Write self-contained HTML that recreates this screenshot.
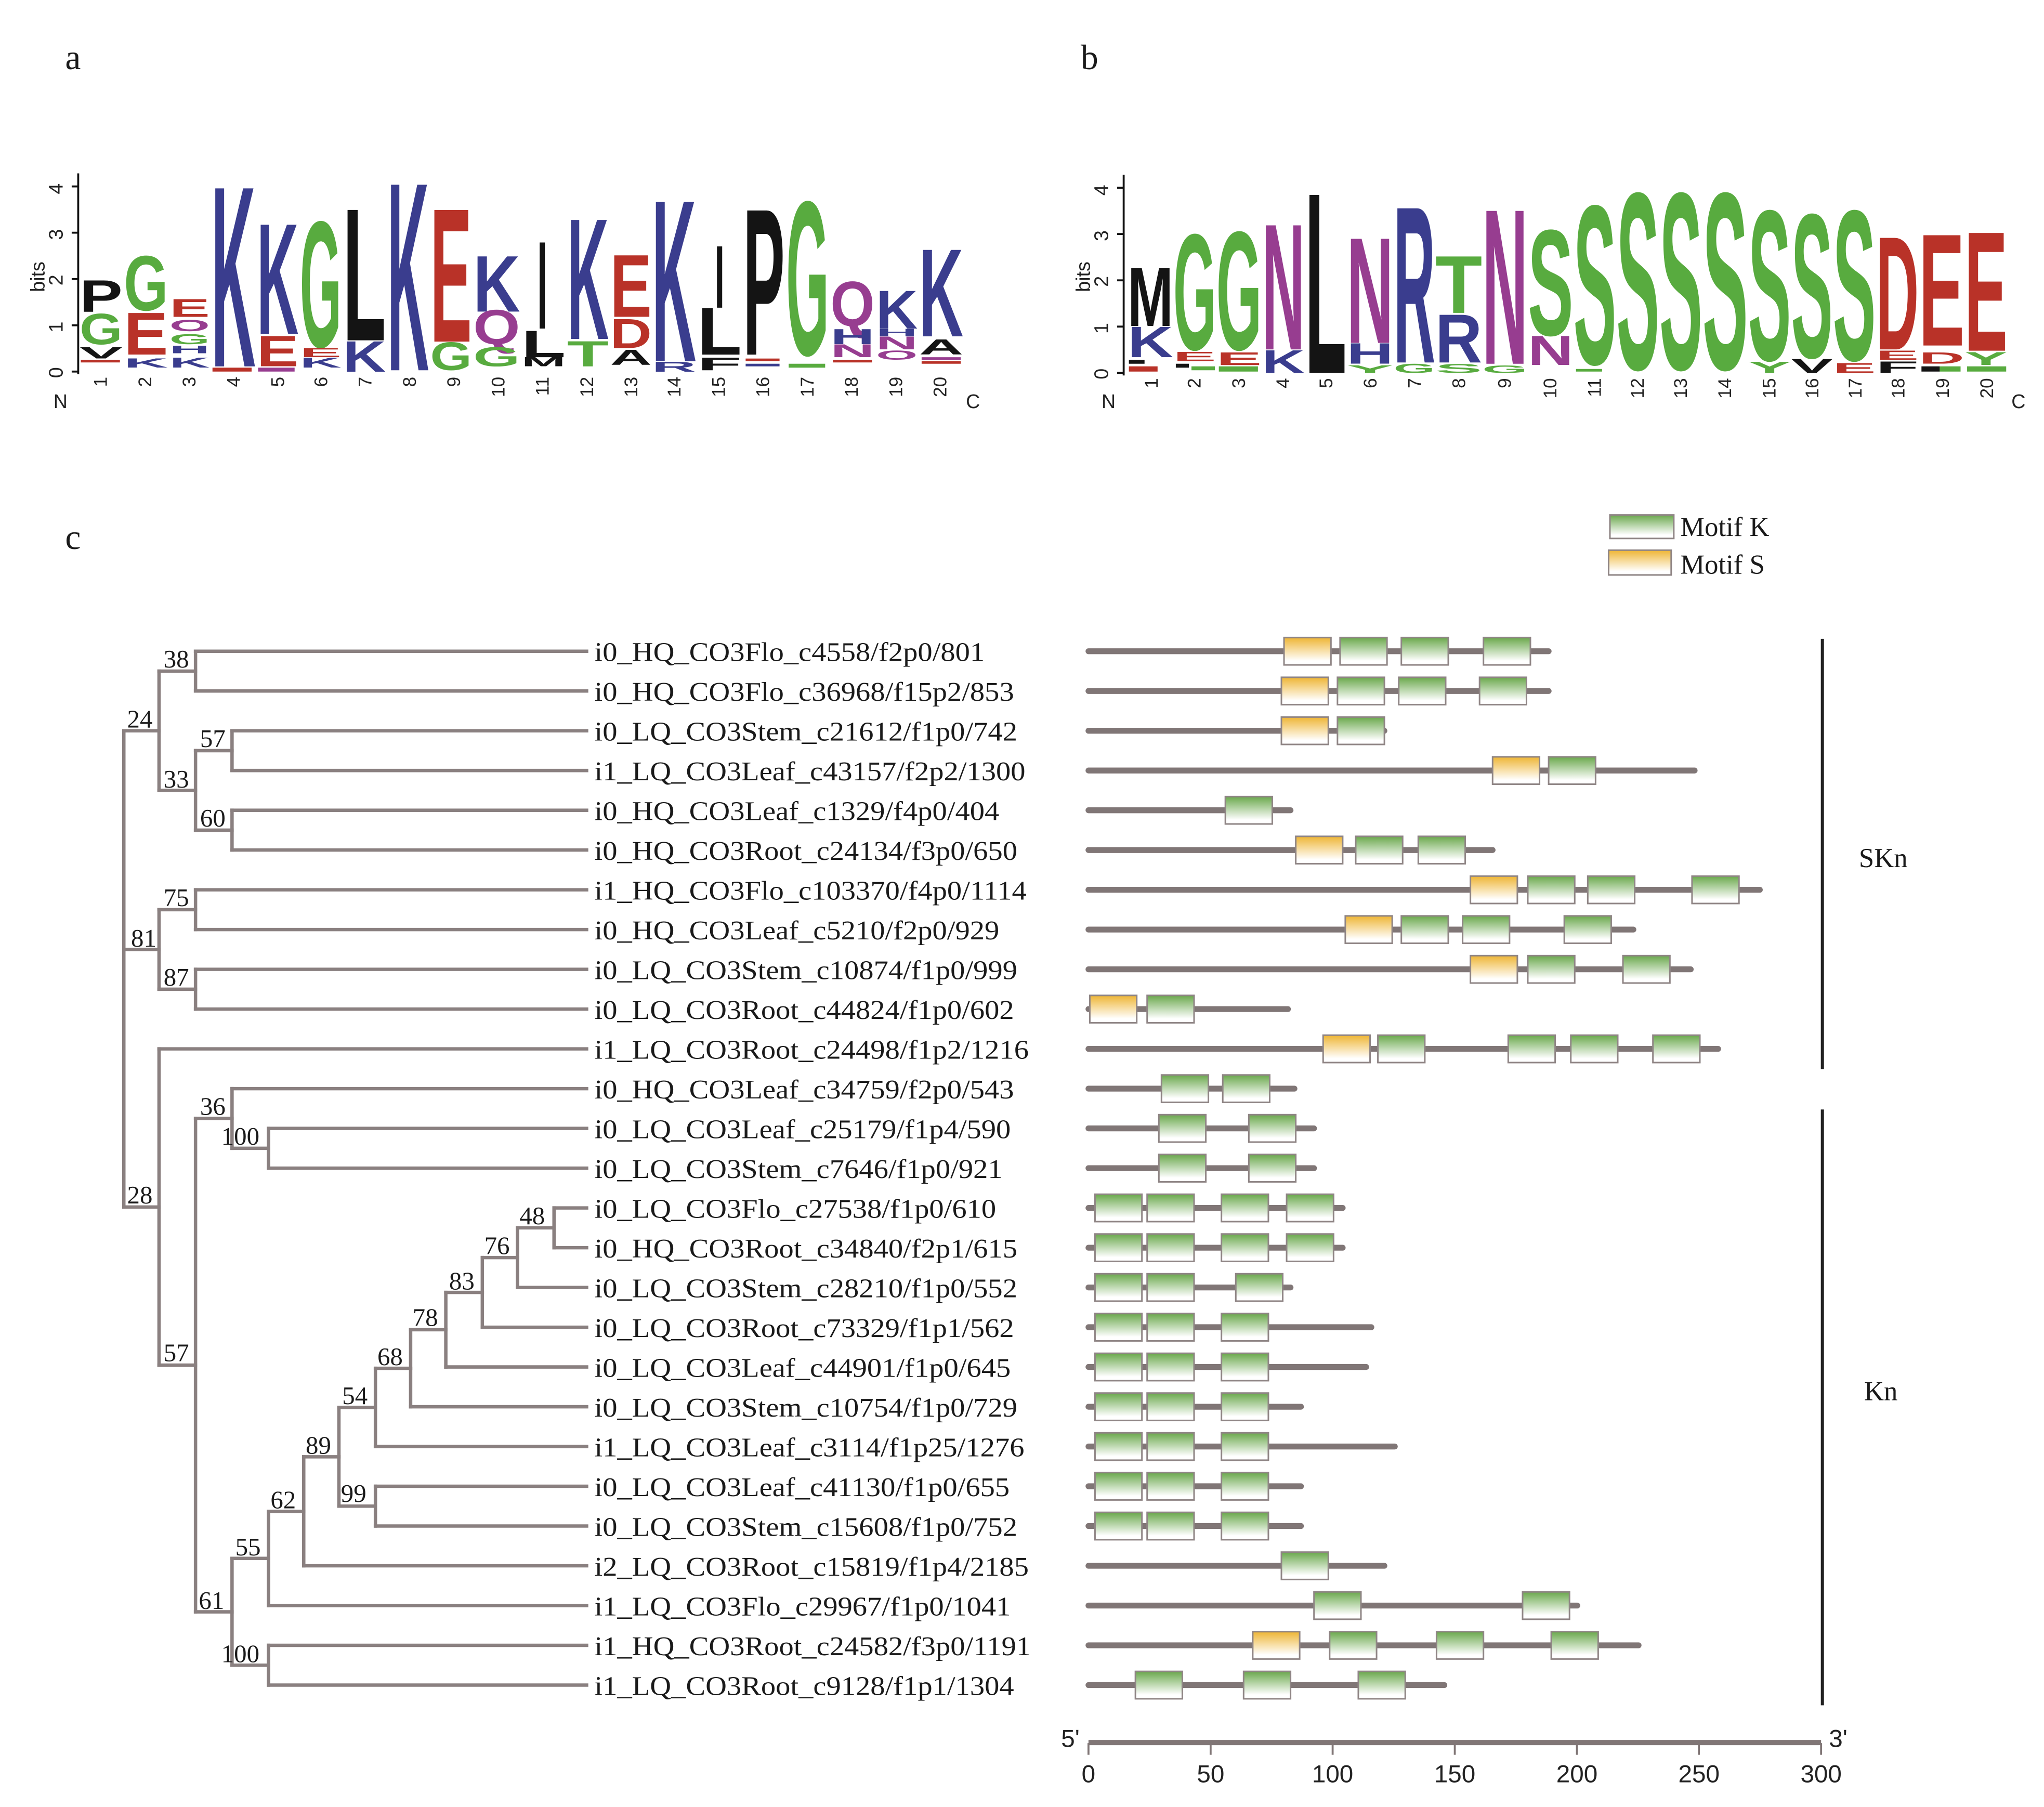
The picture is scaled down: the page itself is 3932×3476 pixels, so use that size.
<!DOCTYPE html>
<html><head><meta charset="utf-8"><style>
html,body{margin:0;padding:0;background:#fff;}
svg{display:block;}
.s{font-family:"Liberation Serif",serif;fill:#1a1a1a;}
.l{font-family:"Liberation Sans",sans-serif;font-weight:bold;}
.ax{font-family:"Liberation Sans",sans-serif;fill:#222;}
</style></head><body>
<svg width="3932" height="3476" viewBox="0 0 1568 1386" preserveAspectRatio="none" xmlns="http://www.w3.org/2000/svg">
<defs>
<linearGradient id="gg" x1="0" y1="0" x2="0" y2="1"><stop offset="0" stop-color="#6aa84c"/><stop offset="0.85" stop-color="#ffffff"/></linearGradient>
<linearGradient id="gy" x1="0" y1="0" x2="0" y2="1"><stop offset="0" stop-color="#eeb534"/><stop offset="0.85" stop-color="#ffffff"/></linearGradient>
</defs>
<rect width="1568" height="1386" fill="#fff"/>

<text class="s" x="50" y="53" font-size="27">a</text>
<text class="s" x="829" y="53" font-size="27">b</text>
<text class="s" x="50" y="421" font-size="27">c</text>

<g stroke="#111" stroke-width="1.5" fill="none">
<path d="M60 133 V287"/>
<path d="M55 285 H60 M55 249.5 H60 M55 214 H60 M55 178.5 H60 M55 143 H60"/>
<path d="M862 134 V288"/>
<path d="M857 286 H862 M857 250.5 H862 M857 215 H862 M857 179.5 H862 M857 144 H862"/>
</g>
<g class="ax" font-size="15">
<text transform="translate(48,290) rotate(-90)">0</text>
<text transform="translate(48,255) rotate(-90)">1</text>
<text transform="translate(48,219) rotate(-90)">2</text>
<text transform="translate(48,184) rotate(-90)">3</text>
<text transform="translate(48,149) rotate(-90)">4</text>
<text transform="translate(34,224) rotate(-90)">bits</text>
<text x="41" y="313">N</text><text x="741" y="313">C</text>
<text transform="translate(850,291) rotate(-90)">0</text>
<text transform="translate(850,256) rotate(-90)">1</text>
<text transform="translate(850,220) rotate(-90)">2</text>
<text transform="translate(850,185) rotate(-90)">3</text>
<text transform="translate(850,150) rotate(-90)">4</text>
<text transform="translate(836,224) rotate(-90)">bits</text>
<text x="845" y="313">N</text><text x="1543" y="313">C</text>
</g>
<g class="ax" font-size="14" text-anchor="end">
<text transform="translate(82,289) rotate(-90)">1</text>
<text transform="translate(116,289) rotate(-90)">2</text>
<text transform="translate(150,289) rotate(-90)">3</text>
<text transform="translate(184,289) rotate(-90)">4</text>
<text transform="translate(218,289) rotate(-90)">5</text>
<text transform="translate(251,289) rotate(-90)">6</text>
<text transform="translate(285,289) rotate(-90)">7</text>
<text transform="translate(319,289) rotate(-90)">8</text>
<text transform="translate(353,289) rotate(-90)">9</text>
<text transform="translate(387,289) rotate(-90)">10</text>
<text transform="translate(421,289) rotate(-90)">11</text>
<text transform="translate(455,289) rotate(-90)">12</text>
<text transform="translate(489,289) rotate(-90)">13</text>
<text transform="translate(522,289) rotate(-90)">14</text>
<text transform="translate(556,289) rotate(-90)">15</text>
<text transform="translate(590,289) rotate(-90)">16</text>
<text transform="translate(624,289) rotate(-90)">17</text>
<text transform="translate(658,289) rotate(-90)">18</text>
<text transform="translate(692,289) rotate(-90)">19</text>
<text transform="translate(726,289) rotate(-90)">20</text>

<text transform="translate(888,290) rotate(-90)">1</text>
<text transform="translate(921,290) rotate(-90)">2</text>
<text transform="translate(955,290) rotate(-90)">3</text>
<text transform="translate(989,290) rotate(-90)">4</text>
<text transform="translate(1022,290) rotate(-90)">5</text>
<text transform="translate(1056,290) rotate(-90)">6</text>
<text transform="translate(1090,290) rotate(-90)">7</text>
<text transform="translate(1124,290) rotate(-90)">8</text>
<text transform="translate(1159,290) rotate(-90)">9</text>
<text transform="translate(1194,290) rotate(-90)">10</text>
<text transform="translate(1228,290) rotate(-90)">11</text>
<text transform="translate(1261,290) rotate(-90)">12</text>
<text transform="translate(1294,290) rotate(-90)">13</text>
<text transform="translate(1328,290) rotate(-90)">14</text>
<text transform="translate(1362,290) rotate(-90)">15</text>
<text transform="translate(1395,290) rotate(-90)">16</text>
<text transform="translate(1428,290) rotate(-90)">17</text>
<text transform="translate(1461,290) rotate(-90)">18</text>
<text transform="translate(1495,290) rotate(-90)">19</text>
<text transform="translate(1529,290) rotate(-90)">20</text>
</g>

<g class="l">
<text x="61" y="239" font-size="34.9" textLength="33" lengthAdjust="spacingAndGlyphs" fill="#141414">P</text>
<text x="61" y="264" font-size="33.5" textLength="33" lengthAdjust="spacingAndGlyphs" fill="#58ab3f">G</text>
<text x="61" y="275" font-size="12.6" textLength="33" lengthAdjust="spacingAndGlyphs" fill="#141414">V</text>
<rect x="62" y="276" width="30" height="2" fill="#b93228"/>

<text x="95" y="238" font-size="60.1" textLength="34" lengthAdjust="spacingAndGlyphs" fill="#58ab3f">G</text>
<text x="95" y="272" font-size="46.1" textLength="34" lengthAdjust="spacingAndGlyphs" fill="#b93228">E</text>
<text x="95" y="282" font-size="9.8" textLength="34" lengthAdjust="spacingAndGlyphs" fill="#3a3d8e">K</text>

<text x="130" y="243" font-size="19.6" textLength="31" lengthAdjust="spacingAndGlyphs" fill="#b93228">E</text>
<text x="130" y="254" font-size="12.6" textLength="31" lengthAdjust="spacingAndGlyphs" fill="#973d90">O</text>
<text x="130" y="264" font-size="11.2" textLength="31" lengthAdjust="spacingAndGlyphs" fill="#58ab3f">G</text>
<text x="130" y="271" font-size="8.4" textLength="31" lengthAdjust="spacingAndGlyphs" fill="#3a3d8e">H</text>
<text x="130" y="282" font-size="11.2" textLength="31" lengthAdjust="spacingAndGlyphs" fill="#3a3d8e">K</text>

<text x="162" y="281" font-size="198.4" textLength="34" lengthAdjust="spacingAndGlyphs" fill="#3a3d8e">K</text>
<rect x="163" y="282" width="30" height="3" fill="#b93228"/>

<text x="197" y="256" font-size="121.5" textLength="32" lengthAdjust="spacingAndGlyphs" fill="#3a3d8e">K</text>
<text x="197" y="281" font-size="33.5" textLength="32" lengthAdjust="spacingAndGlyphs" fill="#b93228">E</text>
<rect x="198" y="282" width="28" height="3" fill="#973d90"/>

<text x="230" y="266" font-size="138.3" textLength="32" lengthAdjust="spacingAndGlyphs" fill="#58ab3f">G</text>
<text x="230" y="274" font-size="9.8" textLength="32" lengthAdjust="spacingAndGlyphs" fill="#b93228">E</text>
<text x="230" y="282" font-size="11.2" textLength="32" lengthAdjust="spacingAndGlyphs" fill="#3a3d8e">K</text>

<text x="263" y="261" font-size="145.3" textLength="33" lengthAdjust="spacingAndGlyphs" fill="#141414">L</text>
<text x="263" y="285" font-size="33.5" textLength="33" lengthAdjust="spacingAndGlyphs" fill="#3a3d8e">K</text>

<text x="297" y="284" font-size="206.8" textLength="32" lengthAdjust="spacingAndGlyphs" fill="#3a3d8e">K</text>

<text x="330" y="262" font-size="146.7" textLength="32" lengthAdjust="spacingAndGlyphs" fill="#b93228">E</text>
<text x="330" y="284" font-size="30.7" textLength="32" lengthAdjust="spacingAndGlyphs" fill="#58ab3f">G</text>

<text x="363" y="239" font-size="61.5" textLength="36" lengthAdjust="spacingAndGlyphs" fill="#3a3d8e">K</text>
<text x="363" y="264" font-size="37.7" textLength="36" lengthAdjust="spacingAndGlyphs" fill="#973d90">Q</text>
<text x="363" y="281" font-size="21" textLength="36" lengthAdjust="spacingAndGlyphs" fill="#58ab3f">G</text>

<rect x="414" y="186" width="4" height="66" fill="#141414"/>
<text x="400" y="274" font-size="29.3" textLength="34" lengthAdjust="spacingAndGlyphs" fill="#141414">L</text>
<text x="400" y="281" font-size="9.8" textLength="34" lengthAdjust="spacingAndGlyphs" fill="#141414">M</text>

<text x="435" y="260" font-size="132.7" textLength="32" lengthAdjust="spacingAndGlyphs" fill="#3a3d8e">K</text>
<text x="435" y="281" font-size="27.9" textLength="32" lengthAdjust="spacingAndGlyphs" fill="#58ab3f">T</text>

<text x="468" y="243" font-size="68.5" textLength="32" lengthAdjust="spacingAndGlyphs" fill="#b93228">E</text>
<text x="468" y="267" font-size="32.1" textLength="32" lengthAdjust="spacingAndGlyphs" fill="#b93228">D</text>
<text x="468" y="280" font-size="16.8" textLength="32" lengthAdjust="spacingAndGlyphs" fill="#141414">A</text>

<text x="500" y="277" font-size="177.4" textLength="34" lengthAdjust="spacingAndGlyphs" fill="#3a3d8e">K</text>
<text x="500" y="285" font-size="11.2" textLength="34" lengthAdjust="spacingAndGlyphs" fill="#3a3d8e">R</text>

<rect x="550" y="189" width="4" height="47" fill="#141414"/>
<text x="535" y="272" font-size="51.7" textLength="34" lengthAdjust="spacingAndGlyphs" fill="#141414">L</text>
<text x="535" y="284" font-size="14" textLength="34" lengthAdjust="spacingAndGlyphs" fill="#141414">F</text>

<text x="570" y="272" font-size="160.7" textLength="32" lengthAdjust="spacingAndGlyphs" fill="#141414">P</text>
<rect x="572" y="275" width="26" height="2" fill="#b93228"/><rect x="572" y="279" width="26" height="2" fill="#3a3d8e"/>

<text x="603" y="272" font-size="169" textLength="33" lengthAdjust="spacingAndGlyphs" fill="#58ab3f">G</text>
<rect x="605" y="279" width="28" height="3" fill="#58ab3f"/>

<text x="637" y="250" font-size="48.9" textLength="34" lengthAdjust="spacingAndGlyphs" fill="#973d90">Q</text>
<text x="637" y="264" font-size="16.8" textLength="34" lengthAdjust="spacingAndGlyphs" fill="#3a3d8e">H</text>
<text x="637" y="274" font-size="14" textLength="34" lengthAdjust="spacingAndGlyphs" fill="#973d90">N</text>
<rect x="639" y="276" width="30" height="2" fill="#b93228"/>

<text x="672" y="252" font-size="41.9" textLength="32" lengthAdjust="spacingAndGlyphs" fill="#3a3d8e">K</text>
<text x="672" y="258" font-size="8.4" textLength="32" lengthAdjust="spacingAndGlyphs" fill="#3a3d8e">H</text>
<text x="672" y="268" font-size="14" textLength="32" lengthAdjust="spacingAndGlyphs" fill="#973d90">N</text>
<text x="672" y="276" font-size="9.8" textLength="32" lengthAdjust="spacingAndGlyphs" fill="#973d90">O</text>

<text x="705" y="258" font-size="96.4" textLength="34" lengthAdjust="spacingAndGlyphs" fill="#3a3d8e">K</text>
<text x="705" y="272" font-size="16.8" textLength="34" lengthAdjust="spacingAndGlyphs" fill="#141414">A</text>
<rect x="707" y="274" width="30" height="2" fill="#973d90"/><rect x="707" y="277" width="30" height="2" fill="#b93228"/>
</g>

<g class="l">
<text x="865" y="250" font-size="64.3" textLength="35" lengthAdjust="spacingAndGlyphs" fill="#141414">M</text>
<text x="865" y="274" font-size="33.5" textLength="35" lengthAdjust="spacingAndGlyphs" fill="#3a3d8e">K</text>
<rect x="866" y="276" width="12" height="3" fill="#141414"/><rect x="866" y="281" width="22" height="4" fill="#b93228"/>

<text x="900" y="268" font-size="127.1" textLength="33" lengthAdjust="spacingAndGlyphs" fill="#58ab3f">G</text>
<text x="900" y="277" font-size="9.8" textLength="33" lengthAdjust="spacingAndGlyphs" fill="#b93228">E</text>
<rect x="902" y="279" width="10" height="3" fill="#141414"/><rect x="914" y="281" width="18" height="3" fill="#58ab3f"/>

<text x="933" y="268" font-size="129.9" textLength="35" lengthAdjust="spacingAndGlyphs" fill="#58ab3f">G</text>
<text x="933" y="280" font-size="14" textLength="35" lengthAdjust="spacingAndGlyphs" fill="#b93228">E</text>
<rect x="935" y="281" width="30" height="4" fill="#58ab3f"/>

<text x="968" y="268" font-size="138.3" textLength="33" lengthAdjust="spacingAndGlyphs" fill="#973d90">N</text>
<text x="968" y="286" font-size="25.1" textLength="33" lengthAdjust="spacingAndGlyphs" fill="#3a3d8e">K</text>

<text x="1001" y="286" font-size="198.4" textLength="32" lengthAdjust="spacingAndGlyphs" fill="#141414">L</text>

<text x="1033" y="263" font-size="116" textLength="36" lengthAdjust="spacingAndGlyphs" fill="#973d90">N</text>
<text x="1033" y="279" font-size="22.4" textLength="36" lengthAdjust="spacingAndGlyphs" fill="#3a3d8e">H</text>
<text x="1033" y="286" font-size="8.4" textLength="36" lengthAdjust="spacingAndGlyphs" fill="#58ab3f">Y</text>

<text x="1069" y="278" font-size="171.8" textLength="32" lengthAdjust="spacingAndGlyphs" fill="#3a3d8e">R</text>
<text x="1069" y="286" font-size="9.8" textLength="32" lengthAdjust="spacingAndGlyphs" fill="#58ab3f">G</text>

<text x="1101" y="240" font-size="62.9" textLength="36" lengthAdjust="spacingAndGlyphs" fill="#58ab3f">T</text>
<text x="1101" y="278" font-size="53.1" textLength="36" lengthAdjust="spacingAndGlyphs" fill="#3a3d8e">R</text>
<text x="1101" y="286" font-size="9.8" textLength="36" lengthAdjust="spacingAndGlyphs" fill="#58ab3f">S</text>

<text x="1137" y="279" font-size="170.4" textLength="35" lengthAdjust="spacingAndGlyphs" fill="#973d90">N</text>
<text x="1137" y="286" font-size="8.4" textLength="35" lengthAdjust="spacingAndGlyphs" fill="#58ab3f">G</text>

<text x="1172" y="257" font-size="116" textLength="35" lengthAdjust="spacingAndGlyphs" fill="#58ab3f">S</text>
<text x="1172" y="280" font-size="32.1" textLength="35" lengthAdjust="spacingAndGlyphs" fill="#973d90">N</text>

<text x="1207" y="279" font-size="174.6" textLength="33" lengthAdjust="spacingAndGlyphs" fill="#58ab3f">S</text>
<rect x="1209" y="283" width="20" height="2" fill="#58ab3f"/>
<text x="1240" y="283" font-size="194.2" textLength="33" lengthAdjust="spacingAndGlyphs" fill="#58ab3f">S</text>
<text x="1273" y="283" font-size="194.2" textLength="33" lengthAdjust="spacingAndGlyphs" fill="#58ab3f">S</text>
<text x="1306" y="283" font-size="194.2" textLength="35" lengthAdjust="spacingAndGlyphs" fill="#58ab3f">S</text>
<text x="1341" y="276" font-size="164.8" textLength="33" lengthAdjust="spacingAndGlyphs" fill="#58ab3f">S</text>
<text x="1341" y="286" font-size="12.6" textLength="33" lengthAdjust="spacingAndGlyphs" fill="#58ab3f">Y</text>
<text x="1374" y="274" font-size="157.9" textLength="32" lengthAdjust="spacingAndGlyphs" fill="#58ab3f">S</text>
<text x="1374" y="286" font-size="15.4" textLength="32" lengthAdjust="spacingAndGlyphs" fill="#141414">V</text>
<text x="1406" y="276" font-size="164.8" textLength="33" lengthAdjust="spacingAndGlyphs" fill="#58ab3f">S</text>
<text x="1406" y="286" font-size="11.2" textLength="33" lengthAdjust="spacingAndGlyphs" fill="#b93228">E</text>

<text x="1439" y="268" font-size="124.3" textLength="33" lengthAdjust="spacingAndGlyphs" fill="#b93228">D</text>
<text x="1439" y="276" font-size="9.8" textLength="33" lengthAdjust="spacingAndGlyphs" fill="#b93228">E</text>
<text x="1439" y="286" font-size="12.6" textLength="33" lengthAdjust="spacingAndGlyphs" fill="#141414">F</text>

<text x="1472" y="265" font-size="122.9" textLength="35" lengthAdjust="spacingAndGlyphs" fill="#b93228">E</text>
<text x="1472" y="279" font-size="12.6" textLength="35" lengthAdjust="spacingAndGlyphs" fill="#b93228">D</text>
<rect x="1474" y="281" width="14" height="4" fill="#141414"/><rect x="1488" y="281" width="16" height="4" fill="#58ab3f"/>

<text x="1507" y="269" font-size="131.3" textLength="33" lengthAdjust="spacingAndGlyphs" fill="#b93228">E</text>
<text x="1507" y="280" font-size="14" textLength="33" lengthAdjust="spacingAndGlyphs" fill="#58ab3f">Y</text>
<rect x="1509" y="281" width="30" height="4" fill="#58ab3f"/>
</g>

<g stroke="#8a8080" stroke-width="2.6" fill="none" stroke-linecap="square">
<path d="M150 499.5H450 M150 530H450 M178 560.5H450 M178 591H450 M178 621.5H450 M178 652H450 M150 682.5H450 M150 713H450 M150 743.5H450 M150 774H450 M122 804.5H450 M178 835H450 M206 865.5H450 M206 896H450 M425 926.5H450 M425 957H450 M397 987.5H450 M370 1018H450 M342 1048.5H450 M315 1079H450 M288 1109.5H450 M288 1140H450 M288 1170.5H450 M233 1201H450 M206 1231.5H450 M206 1262H450 M206 1292.5H450"/>
<path d="M150 499.5V530 M178 560.5V591 M178 621.5V652 M150 575.75V636.75 M122 514.75V606.25 M150 682.5V713 M150 743.5V774 M122 697.75V758.75 M95 560.5V925.8 M206 865.5V896 M178 835V880.75 M425 926.5V957 M397 941.75V987.5 M370 964.6V1018 M342 991.3V1048.5 M315 1019.9V1079 M288 1049.5V1109.5 M288 1140V1170.5 M260 1079.5V1155.25 M233 1117.4V1201 M206 1159.2V1231.5 M206 1262V1292.5 M178 1195.3V1277.25 M150 857.9V1236.3 M122 804.5V1047.1"/>
<path d="M122 514.75H150 M150 575.75H178 M150 636.75H178 M122 606.25H150 M95 560.5H122 M122 697.75H150 M122 758.75H150 M95 728.25H122 M178 880.75H206 M150 857.9H178 M397 941.75H425 M370 964.6H397 M342 991.3H370 M315 1019.9H342 M288 1049.5H315 M260 1079.5H288 M260 1155.25H288 M233 1117.4H260 M206 1159.2H233 M178 1195.3H206 M178 1277.25H206 M150 1236.3H178 M122 1047.1H150 M95 925.8H122"/>
</g>
<g class="s" font-size="19.5" text-anchor="end">
<text x="145" y="512">38</text><text x="173" y="573">57</text><text x="145" y="604">33</text><text x="173" y="634">60</text>
<text x="117" y="558">24</text><text x="145" y="695">75</text><text x="120" y="726">81</text><text x="145" y="756">87</text>
<text x="173" y="855">36</text><text x="199" y="878">100</text><text x="117" y="923">28</text>
<text x="418" y="939">48</text><text x="391" y="962">76</text><text x="364" y="989">83</text><text x="336" y="1017">78</text>
<text x="309" y="1047">68</text><text x="282" y="1077">54</text><text x="281" y="1152">99</text><text x="254" y="1115">89</text>
<text x="227" y="1157">62</text><text x="200" y="1193">55</text><text x="199" y="1275">100</text><text x="172" y="1234">61</text><text x="145" y="1044">57</text>
</g>

<g class="s" font-size="20.5" transform="translate(456,0) scale(1.1,1)">
<text x="0" y="507">i0_HQ_CO3Flo_c4558/f2p0/801</text>
<text x="0" y="537.5">i0_HQ_CO3Flo_c36968/f15p2/853</text>
<text x="0" y="568">i0_LQ_CO3Stem_c21612/f1p0/742</text>
<text x="0" y="598.5">i1_LQ_CO3Leaf_c43157/f2p2/1300</text>
<text x="0" y="629">i0_HQ_CO3Leaf_c1329/f4p0/404</text>
<text x="0" y="659.5">i0_HQ_CO3Root_c24134/f3p0/650</text>
<text x="0" y="690">i1_HQ_CO3Flo_c103370/f4p0/1114</text>
<text x="0" y="720.5">i0_HQ_CO3Leaf_c5210/f2p0/929</text>
<text x="0" y="751">i0_LQ_CO3Stem_c10874/f1p0/999</text>
<text x="0" y="781.5">i0_LQ_CO3Root_c44824/f1p0/602</text>
<text x="0" y="812">i1_LQ_CO3Root_c24498/f1p2/1216</text>
<text x="0" y="842.5">i0_HQ_CO3Leaf_c34759/f2p0/543</text>
<text x="0" y="873">i0_LQ_CO3Leaf_c25179/f1p4/590</text>
<text x="0" y="903.5">i0_LQ_CO3Stem_c7646/f1p0/921</text>
<text x="0" y="934">i0_LQ_CO3Flo_c27538/f1p0/610</text>
<text x="0" y="964.5">i0_HQ_CO3Root_c34840/f2p1/615</text>
<text x="0" y="995">i0_LQ_CO3Stem_c28210/f1p0/552</text>
<text x="0" y="1025.5">i0_LQ_CO3Root_c73329/f1p1/562</text>
<text x="0" y="1056">i0_LQ_CO3Leaf_c44901/f1p0/645</text>
<text x="0" y="1086.5">i0_LQ_CO3Stem_c10754/f1p0/729</text>
<text x="0" y="1117">i1_LQ_CO3Leaf_c3114/f1p25/1276</text>
<text x="0" y="1147.5">i0_LQ_CO3Leaf_c41130/f1p0/655</text>
<text x="0" y="1178">i0_LQ_CO3Stem_c15608/f1p0/752</text>
<text x="0" y="1208.5">i2_LQ_CO3Root_c15819/f1p4/2185</text>
<text x="0" y="1239">i1_LQ_CO3Flo_c29967/f1p0/1041</text>
<text x="0" y="1269.5">i1_HQ_CO3Root_c24582/f3p0/1191</text>
<text x="0" y="1300">i1_LQ_CO3Root_c9128/f1p1/1304</text>
</g>

<g stroke="#807676" stroke-width="4.5" stroke-linecap="round" fill="none">
<path d="M835 499.5H1188 M835 530H1188 M835 560.5H1062 M835 591H1300 M835 621.5H990 M835 652H1145 M835 682.5H1350 M835 713H1253 M835 743.5H1297 M835 774H988 M835 804.5H1318 M835 835H993 M835 865.5H1008 M835 896H1008 M835 926.5H1030 M835 957H1030 M835 987.5H990 M835 1018H1052 M835 1048.5H1048 M835 1079H998 M835 1109.5H1070 M835 1140H998 M835 1170.5H998 M835 1201H1062 M835 1231.5H1210 M835 1262H1257 M835 1292.5H1108"/>
</g>
<g stroke="#8f8585" stroke-width="1.2">
<rect x="985" y="489" width="36" height="21" fill="url(#gy)"/><rect x="1028" y="489" width="36" height="21" fill="url(#gg)"/><rect x="1075" y="489" width="36" height="21" fill="url(#gg)"/><rect x="1138" y="489" width="36" height="21" fill="url(#gg)"/>
<rect x="983" y="519.5" width="36" height="21" fill="url(#gy)"/><rect x="1026" y="519.5" width="36" height="21" fill="url(#gg)"/><rect x="1073" y="519.5" width="36" height="21" fill="url(#gg)"/><rect x="1135" y="519.5" width="36" height="21" fill="url(#gg)"/>
<rect x="983" y="550" width="36" height="21" fill="url(#gy)"/><rect x="1026" y="550" width="36" height="21" fill="url(#gg)"/>
<rect x="1145" y="580.5" width="36" height="21" fill="url(#gy)"/><rect x="1188" y="580.5" width="36" height="21" fill="url(#gg)"/>
<rect x="940" y="611" width="36" height="21" fill="url(#gg)"/>
<rect x="994" y="641.5" width="36" height="21" fill="url(#gy)"/><rect x="1040" y="641.5" width="36" height="21" fill="url(#gg)"/><rect x="1088" y="641.5" width="36" height="21" fill="url(#gg)"/>
<rect x="1128" y="672" width="36" height="21" fill="url(#gy)"/><rect x="1172" y="672" width="36" height="21" fill="url(#gg)"/><rect x="1218" y="672" width="36" height="21" fill="url(#gg)"/><rect x="1298" y="672" width="36" height="21" fill="url(#gg)"/>
<rect x="1032" y="702.5" width="36" height="21" fill="url(#gy)"/><rect x="1075" y="702.5" width="36" height="21" fill="url(#gg)"/><rect x="1122" y="702.5" width="36" height="21" fill="url(#gg)"/><rect x="1200" y="702.5" width="36" height="21" fill="url(#gg)"/>
<rect x="1128" y="733" width="36" height="21" fill="url(#gy)"/><rect x="1172" y="733" width="36" height="21" fill="url(#gg)"/><rect x="1245" y="733" width="36" height="21" fill="url(#gg)"/>
<rect x="836" y="763.5" width="36" height="21" fill="url(#gy)"/><rect x="880" y="763.5" width="36" height="21" fill="url(#gg)"/>
<rect x="1015" y="794" width="36" height="21" fill="url(#gy)"/><rect x="1057" y="794" width="36" height="21" fill="url(#gg)"/><rect x="1157" y="794" width="36" height="21" fill="url(#gg)"/><rect x="1205" y="794" width="36" height="21" fill="url(#gg)"/><rect x="1268" y="794" width="36" height="21" fill="url(#gg)"/>
<rect x="891" y="824.5" width="36" height="21" fill="url(#gg)"/><rect x="938" y="824.5" width="36" height="21" fill="url(#gg)"/>
<rect x="889" y="855" width="36" height="21" fill="url(#gg)"/><rect x="958" y="855" width="36" height="21" fill="url(#gg)"/>
<rect x="889" y="885.5" width="36" height="21" fill="url(#gg)"/><rect x="958" y="885.5" width="36" height="21" fill="url(#gg)"/>
<rect x="840" y="916" width="36" height="21" fill="url(#gg)"/><rect x="880" y="916" width="36" height="21" fill="url(#gg)"/><rect x="937" y="916" width="36" height="21" fill="url(#gg)"/><rect x="987" y="916" width="36" height="21" fill="url(#gg)"/>
<rect x="840" y="946.5" width="36" height="21" fill="url(#gg)"/><rect x="880" y="946.5" width="36" height="21" fill="url(#gg)"/><rect x="937" y="946.5" width="36" height="21" fill="url(#gg)"/><rect x="987" y="946.5" width="36" height="21" fill="url(#gg)"/>
<rect x="840" y="977" width="36" height="21" fill="url(#gg)"/><rect x="880" y="977" width="36" height="21" fill="url(#gg)"/><rect x="948" y="977" width="36" height="21" fill="url(#gg)"/>
<rect x="840" y="1007.5" width="36" height="21" fill="url(#gg)"/><rect x="880" y="1007.5" width="36" height="21" fill="url(#gg)"/><rect x="937" y="1007.5" width="36" height="21" fill="url(#gg)"/>
<rect x="840" y="1038" width="36" height="21" fill="url(#gg)"/><rect x="880" y="1038" width="36" height="21" fill="url(#gg)"/><rect x="937" y="1038" width="36" height="21" fill="url(#gg)"/>
<rect x="840" y="1068.5" width="36" height="21" fill="url(#gg)"/><rect x="880" y="1068.5" width="36" height="21" fill="url(#gg)"/><rect x="937" y="1068.5" width="36" height="21" fill="url(#gg)"/>
<rect x="840" y="1099" width="36" height="21" fill="url(#gg)"/><rect x="880" y="1099" width="36" height="21" fill="url(#gg)"/><rect x="937" y="1099" width="36" height="21" fill="url(#gg)"/>
<rect x="840" y="1129.5" width="36" height="21" fill="url(#gg)"/><rect x="880" y="1129.5" width="36" height="21" fill="url(#gg)"/><rect x="937" y="1129.5" width="36" height="21" fill="url(#gg)"/>
<rect x="840" y="1160" width="36" height="21" fill="url(#gg)"/><rect x="880" y="1160" width="36" height="21" fill="url(#gg)"/><rect x="937" y="1160" width="36" height="21" fill="url(#gg)"/>
<rect x="983" y="1190.5" width="36" height="21" fill="url(#gg)"/>
<rect x="1008" y="1221" width="36" height="21" fill="url(#gg)"/><rect x="1168" y="1221" width="36" height="21" fill="url(#gg)"/>
<rect x="961" y="1251.5" width="36" height="21" fill="url(#gy)"/><rect x="1020" y="1251.5" width="36" height="21" fill="url(#gg)"/><rect x="1102" y="1251.5" width="36" height="21" fill="url(#gg)"/><rect x="1190" y="1251.5" width="36" height="21" fill="url(#gg)"/>
<rect x="871" y="1282" width="36" height="21" fill="url(#gg)"/><rect x="954" y="1282" width="36" height="21" fill="url(#gg)"/><rect x="1042" y="1282" width="36" height="21" fill="url(#gg)"/>
<rect x="1235" y="395" width="49" height="18" fill="url(#gg)"/>
<rect x="1234" y="422" width="48" height="19" fill="url(#gy)"/>
</g>
<text class="s" x="1289" y="411" font-size="21">Motif K</text>
<text class="s" x="1289" y="440" font-size="21">Motif S</text>

<g stroke="#222" stroke-width="2.4"><path d="M1398 490V820 M1398 851V1308"/></g>
<text class="s" x="1426" y="665" font-size="21">SKn</text>
<text class="s" x="1430" y="1074" font-size="21">Kn</text>

<g stroke="#807676" fill="none">
<path d="M835 1336.6H1397" stroke-width="4"/>
<path d="M835 1337V1346 M928.7 1337V1346 M1022.3 1337V1346 M1116 1337V1346 M1209.7 1337V1346 M1303.3 1337V1346 M1397 1337V1346" stroke-width="1.5"/>
</g>
<g class="ax" font-size="19" text-anchor="middle">
<text x="835" y="1367">0</text><text x="928.7" y="1367">50</text><text x="1022.3" y="1367">100</text><text x="1116" y="1367">150</text><text x="1209.7" y="1367">200</text><text x="1303.3" y="1367">250</text><text x="1397" y="1367">300</text>
</g>
<text class="ax" x="814" y="1340" font-size="19">5'</text>
<text class="ax" x="1403" y="1340" font-size="19">3'</text>
</svg>
</body></html>
